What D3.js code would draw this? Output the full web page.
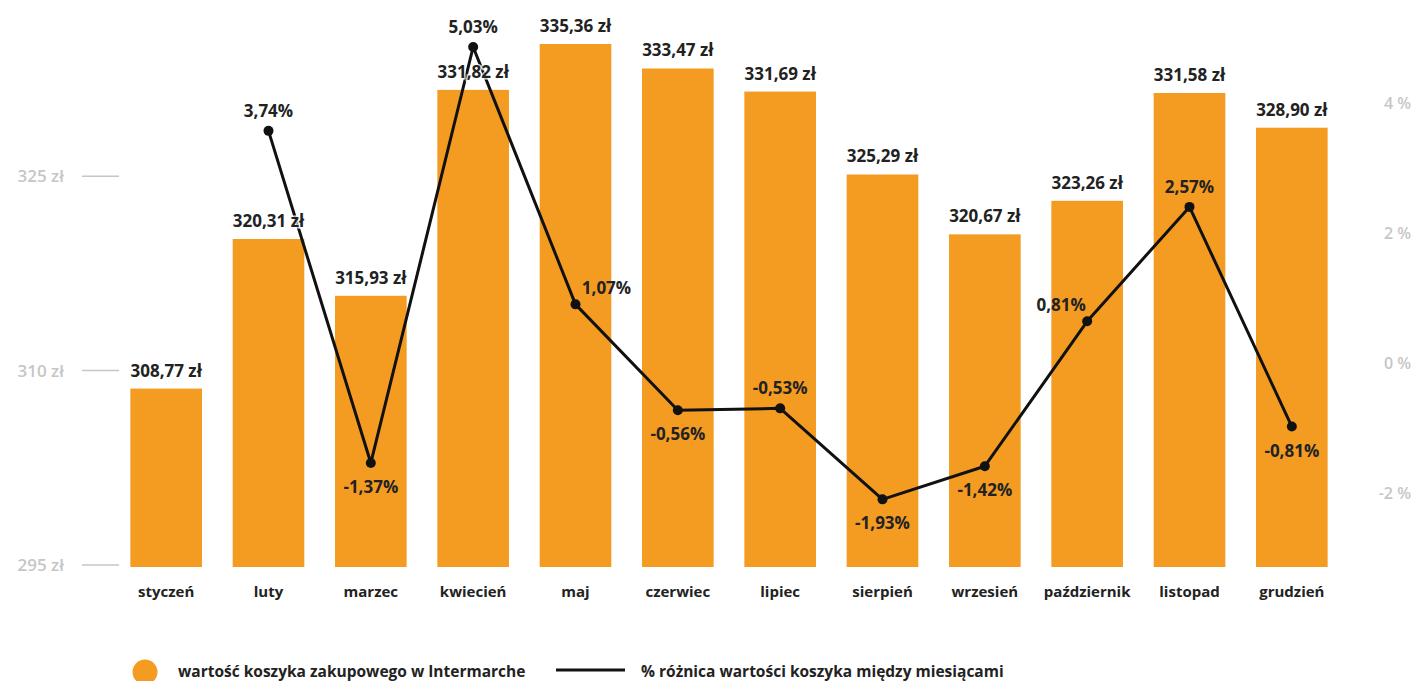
<!DOCTYPE html>
<html lang="pl">
<head>
<meta charset="utf-8">
<title>Wartość koszyka zakupowego w Intermarche</title>
<script src="https://cdn.jsdelivr.net/npm/d3@7/dist/d3.min.js"></script>
<style>
  html, body { margin: 0; padding: 0; background: #fff; }
  svg { display: block; font-family: "Open Sans", Lato, sans-serif; }
</style>
</head>
<body>
<svg id="chart" width="1415" height="681"></svg>
<script>
// Monthly basket value (zł) and month-over-month change (%)
const months = ["styczeń", "luty", "marzec", "kwiecień", "maj", "czerwiec",
                "lipiec", "sierpień", "wrzesień", "październik", "listopad", "grudzień"];
const basketValues = [308.77, 320.31, 315.93, 331.82, 335.36, 333.47,
                      331.69, 325.29, 320.67, 323.26, 331.58, 328.90];
const monthChange = [null, 3.74, -1.37, 5.03, 1.07, -0.56,
                     -0.53, -1.93, -1.42, 0.81, 2.57, -0.81];
const leftTicks = [295, 310, 325];
const rightTicks = [-2, 0, 2, 4];
const legendLabels = ["wartość koszyka zakupowego w Intermarche",
                      "% różnica wartości koszyka między miesiącami"];

// Where each percentage label sits relative to its point
const changeLabelSide = [null, "above", "below", "above", "right", "below",
                         "above", "below", "below", "left", "above", "below"];

const ORANGE = "#f49c22";
const INK = "#222";
const AXIS_GREY = "#c6c6c6";

const svg = d3.select("#chart");

const x = d3.scaleBand()
  .domain(months)
  .range([115, 1343])
  .paddingInner(0.3)
  .paddingOuter(0.15);

const yValue = d3.scaleLinear().domain([295, 335.36]).range([567, 44]);
const yChange = d3.scaleLinear().domain([-2, 5.03]).range([503.9, 47]);

const fmt = d3.formatLocale({ decimal: ",", thousands: " ", grouping: [3], currency: ["", " zł"], minus: "-" });
const fmtValue = v => fmt.format(".2f")(v) + " zł";
const fmtChange = v => fmt.format(".2f")(v) + "%";

// Left axis: grey labels with short tick lines
const leftAxis = svg.append("g").attr("class", "axis-left");
const lt = leftAxis.selectAll("g").data(leftTicks).join("g")
  .attr("transform", d => `translate(0,${yValue(d) - 2})`);
lt.append("line")
  .attr("x1", 82).attr("x2", 119)
  .attr("stroke", AXIS_GREY).attr("stroke-width", 1.5);
lt.append("text")
  .attr("x", 64).attr("dy", "0.35em")
  .attr("text-anchor", "end")
  .attr("fill", AXIS_GREY)
  .attr("font-size", 17).attr("font-weight", 600)
  .text(d => d + " zł");

// Right axis: percentage labels only
const rightAxis = svg.append("g").attr("class", "axis-right");
rightAxis.selectAll("text").data(rightTicks).join("text")
  .attr("x", 1411)
  .attr("y", d => yChange(d) - 11)
  .attr("dy", "0.35em")
  .attr("text-anchor", "end")
  .attr("fill", AXIS_GREY)
  .attr("font-size", 16).attr("font-weight", 600)
  .text(d => fmt.format("d")(d) + " %");

// Bars
svg.append("g").selectAll("rect").data(months).join("rect")
  .attr("x", d => x(d))
  .attr("width", x.bandwidth())
  .attr("y", (d, i) => yValue(basketValues[i]))
  .attr("height", (d, i) => yValue(295) - yValue(basketValues[i]))
  .attr("fill", ORANGE);

// Month labels
svg.append("g").selectAll("text").data(months).join("text")
  .attr("x", d => x(d) + x.bandwidth() / 2)
  .attr("y", 592)
  .attr("dy", "0.35em")
  .attr("text-anchor", "middle")
  .attr("fill", INK)
  .attr("font-size", 15).attr("font-weight", 700)
  .text(d => d);

// Change line and points
const changePts = months.map((m, i) => ({ m, v: monthChange[i], side: changeLabelSide[i] }))
  .filter(d => d.v !== null);
const cx = d => x(d.m) + x.bandwidth() / 2;

svg.append("path")
  .datum(changePts)
  .attr("fill", "none")
  .attr("stroke", "#111")
  .attr("stroke-width", 3)
  .attr("stroke-linejoin", "round")
  .attr("d", d3.line().x(cx).y(d => yChange(d.v)));

svg.append("g").selectAll("circle").data(changePts).join("circle")
  .attr("cx", cx)
  .attr("cy", d => yChange(d.v))
  .attr("r", 5)
  .attr("fill", "#111");

// Bar value labels (with a soft white halo where the line crosses them)
svg.append("g").selectAll("text").data(months).join("text")
  .attr("x", d => x(d) + x.bandwidth() / 2)
  .attr("y", (d, i) => yValue(basketValues[i]) - 18)
  .attr("dy", "0.35em")
  .attr("text-anchor", "middle")
  .attr("fill", INK)
  .attr("stroke", "rgba(255,255,255,0.75)")
  .attr("stroke-width", 3)
  .attr("paint-order", "stroke")
  .attr("font-size", 17).attr("font-weight", 700)
  .text((d, i) => fmtValue(basketValues[i]));

// Percentage labels
const offsets = {
  above: [0, -20],
  below: [0, 24],
  right: [31, -16],
  left: [-26, -16]
};
svg.append("g").selectAll("text").data(changePts).join("text")
  .attr("x", d => cx(d) + offsets[d.side][0])
  .attr("y", d => yChange(d.v) + offsets[d.side][1])
  .attr("dy", "0.35em")
  .attr("text-anchor", "middle")
  .attr("fill", INK)
  .attr("font-size", 17).attr("font-weight", 700)
  .text(d => fmtChange(d.v));

// Legend
const legend = svg.append("g").attr("class", "legend");
legend.append("circle")
  .attr("cx", 145).attr("cy", 672).attr("r", 12.5)
  .attr("fill", ORANGE);
legend.append("text")
  .attr("x", 178).attr("y", 672).attr("dy", "0.35em")
  .attr("fill", INK).attr("font-size", 15.5).attr("font-weight", 700)
  .text(legendLabels[0]);
legend.append("line")
  .attr("x1", 556).attr("x2", 625)
  .attr("y1", 670).attr("y2", 670)
  .attr("stroke", "#111").attr("stroke-width", 3);
legend.append("text")
  .attr("x", 641).attr("y", 672).attr("dy", "0.35em")
  .attr("fill", INK).attr("font-size", 15.5).attr("font-weight", 700)
  .text(legendLabels[1]);
</script>
</body>
</html>
